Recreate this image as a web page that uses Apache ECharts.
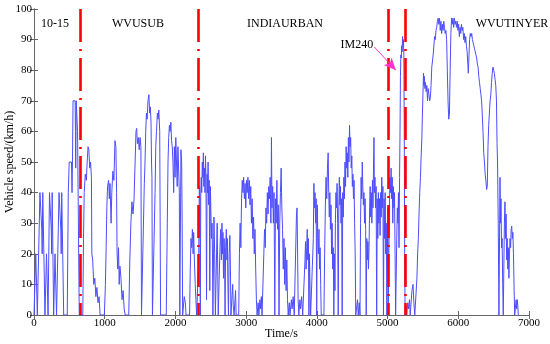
<!DOCTYPE html>
<html>
<head>
<meta charset="utf-8">
<script src="https://cdn.jsdelivr.net/npm/echarts/dist/echarts.min.js"></script>
<style>html,body{margin:0;padding:0;background:#fff}#c{width:550px;height:344px}</style>
</head>
<body>
<div id="c"></div>
<script>
// Speed trace [time s, speed km/h], per driving cycle
const cycle1015 = [[0,0],[18,0],[25,20],[40,20],[47,0],[70,0],[84,40],[100,40],[110,28],[116,20],[124,40],[140,40],[155,0],
[170,0],[177,20],[192,20],[199,0],[205,0],[219,40],[234,40],[244,28],[250,20],[257,40],[268,40],[278,0],
[290,0],[297,20],[312,20],[319,0],[340,0],[354,40],[369,40],[379,28],[385,20],[392,40],[410,40],[420,0],
[470,0],[485,40],[498,50],[530,50],[538,40],[544,50],[552,70],[582,70],[586,60],[590,48],[597,70],[612,70],[616,60],[630,60],[640,0],[660,0]];

const wvusub = [[660,0],[690,0],[700,25],[710,40],[725,46],[740,44],[752,50],[764,55],[776,54],[788,48],[800,50],[812,45],[818,20],[830,18],[845,10],[860,12],[875,6],[890,9],[905,4],[920,6],[935,0],
[995,0],[1010,10],[1020,22],[1030,35],[1040,42],[1055,44],[1065,38],[1075,43],[1090,30],[1100,40],[1115,47],[1130,44],[1145,57],[1158,55],[1168,40],[1175,20],[1185,15],[1195,22],[1205,10],[1215,16],[1230,12],[1245,5],[1260,8],[1275,2],[1290,0],
[1340,0],[1355,18],[1370,30],[1385,37],[1400,33],[1415,38],[1430,50],[1442,60],[1452,61],[1462,56],[1475,58],[1488,54],[1500,58],[1512,55],[1520,0],
[1545,0],[1560,43],[1570,50],[1580,60],[1590,66],[1600,64],[1612,70],[1625,72],[1635,66],[1645,68],[1655,63],[1662,50],[1668,45],[1675,0],
[1700,0],[1712,40],[1722,55],[1732,60],[1745,66],[1755,64],[1765,67],[1778,60],[1790,0],
[1870,0],[1885,30],[1895,50],[1905,58],[1915,62],[1925,60],[1935,63],[1945,57],[1955,55],[1965,50],[1975,40],[1985,55],[1995,45],[2005,58],[2015,50],[2025,42],[2035,55],[2045,48],[2055,40],[2062,0],[2070,0],[2078,54],[2088,50],[2095,30],[2102,0],
[2115,0],[2125,6],[2140,4],[2150,0],[2200,0],[2210,15],[2220,25],[2230,22],[2240,28],[2250,20],[2258,27],[2268,18],[2280,10],[2290,5],[2300,0],[2320,0]];

const indiaUrban = [[2320,0],[2330,20],[2338,42],[2345,38],[2352,0],[2358,40],[2365,45],[2372,40],[2380,50],[2388,45],[2395,53],[2402,42],[2410,48],[2418,40],[2425,52],[2432,45],[2440,5],[2448,46],[2455,40],[2462,50],[2470,36],[2478,44],[2486,8],[2494,42],[2502,33],[2510,25],[2518,30],[2525,18],[2530,0],
[2545,32],[2555,20],[2565,0],[2580,0],[2590,30],[2598,15],[2605,0],[2620,0],[2630,22],[2640,28],[2650,18],[2658,30],[2665,20],[2672,27],[2680,12],[2688,25],[2695,20],[2702,0],[2710,22],[2720,28],[2728,18],[2735,25],[2742,10],[2750,0],[2760,20],[2770,26],[2778,15],[2785,0],[2800,0],[2810,10],[2818,3],[2830,0],[2850,8],[2858,0],[2880,0],
[2895,0],[2905,20],[2915,30],[2925,22],[2935,38],[2945,44],[2955,40],[2965,45],[2975,38],[2985,43],[2995,35],[3005,44],[3015,40],[3025,45],[3035,38],[3045,44],[3055,36],[3065,42],[3075,30],[3085,38],[3095,25],[3105,32],[3115,20],[3125,28],[3135,15],[3145,5],[3155,0],[3170,4],[3180,0],[3195,5],[3205,2],[3215,6],[3225,0],
[3240,0],[3250,20],[3260,28],[3270,22],[3280,35],[3290,30],[3300,40],[3310,33],[3320,42],[3330,38],[3340,45],[3350,30],[3358,58],[3365,35],[3375,42],[3385,30],[3395,40],[3405,0],[3415,38],[3425,30],[3435,44],[3445,28],[3455,36],[3465,0],[3475,30],[3485,40],[3495,48],[3505,35],[3515,28],
[3525,15],[3535,25],[3545,10],[3555,22],[3565,8],[3575,18],[3585,5],[3595,0],[3610,4],[3620,0],[3640,5],[3650,2],[3665,6],[3680,0],[3705,0],[3712,33],[3720,35],[3728,20],[3735,5],[3745,0],[3760,5],[3770,2],[3785,6],[3800,0],
[3825,0],[3832,18],[3840,24],[3848,15],[3856,22],[3864,28],[3872,18],[3880,25],[3888,0],[3896,20],[3904,8],[3912,0],[3940,0],[3950,25],[3958,43],[3966,35],[3974,40],[3982,30],[3990,38],[3998,0],[4006,36],[4014,25],[4022,20],[4030,28],[4038,15],[4046,22],[4054,10],[4062,0],
[4090,0],[4100,0],[4110,20],[4120,35],[4130,45],[4140,38],[4150,48],[4160,53],[4168,40],[4176,32],[4184,40],[4192,28],[4200,36],[4208,20],[4216,30],[4224,15],[4232,22],[4240,0],[4248,20],[4256,8],[4262,30],[4270,40],[4278,35],[4286,43],[4294,30],[4302,0],[4310,34],[4318,45],[4326,36],[4334,42],[4342,30],[4350,38],[4358,0],[4366,40],[4374,32],[4382,45],[4390,38],[4398,50],[4406,42],[4414,55],[4422,48],[4430,53],[4438,45],[4446,58],[4454,50],[4462,62],[4470,55],[4478,58],[4486,48],[4494,52],[4502,42],[4510,46],[4518,38],[4526,44],[4534,30],[4542,20],[4550,0],
[4565,0],[4575,5],[4585,0],[4600,4],[4610,0],[4618,30],[4626,45],[4634,38],[4642,50],[4650,42],[4658,36],[4666,40],[4674,30],[4682,38],[4690,28],[4698,0],[4706,25],[4714,18],[4722,24],[4730,15],[4738,22],[4746,35],[4754,42],[4762,32],[4770,40],[4778,30],[4786,44],[4794,35],[4802,50],[4808,58],[4814,40],[4822,45],[4830,35],[4838,42],[4846,0],[4854,38],[4862,25],[4870,40],[4878,30],[4886,38],[4894,26],[4902,40],[4910,32],[4918,45],[4926,35],[4934,42],[4942,0],[4950,38],[4958,25],[4966,40],[4974,20],[4982,30],[4990,0],[4998,22],[5006,35]];

const im240 = [[5010,0],[5018,20],[5026,35],[5034,45],[5042,40],[5050,48],[5058,38],[5066,45],[5074,30],[5082,42],[5090,35],[5098,40],[5106,20],[5114,0],[5124,0],[5130,25],[5138,35],[5146,30],[5154,40],[5162,22],[5170,45],[5176,60],[5182,78],[5188,85],[5194,84],[5200,88],[5206,86],[5212,91],[5218,88],[5224,90],[5230,85],[5236,60],[5242,20],[5248,0]];

const wvuTinyer = [[5250,0],[5262,3],[5272,0],[5285,4],[5295,2],[5310,5],[5320,0],[5335,0],[5345,8],[5360,10],[5372,4],[5385,0],[5405,0],[5415,12],[5425,20],[5435,25],[5445,33],[5455,40],[5465,45],[5475,52],[5485,58],[5492,65],[5500,72],[5508,79],[5514,75],[5520,78],[5528,74],[5536,76],[5545,73],[5555,75],[5565,70],[5575,74],[5585,72],[5595,70],[5605,71],[5615,75],[5625,81],[5635,83],[5645,85],[5655,88],[5665,91],[5675,90],[5685,93],[5695,94],[5705,96],[5715,97],[5725,95],[5735,97],[5745,93],[5755,96],[5765,92],[5775,95],[5785,93],[5795,96],[5805,94],[5815,92],[5825,93],[5835,90],[5845,80],[5855,70],[5865,64],[5875,66],[5885,80],[5895,92],[5905,97],[5915,95],[5925,97],[5935,94],[5945,97],[5955,95],[5965,96],[5975,94],[5985,96],[5995,93],[6005,95],[6015,91],[6025,94],[6035,92],[6045,95],[6055,93],[6065,94],[6075,90],[6085,92],[6095,89],[6105,91],[6115,88],[6125,86],[6135,82],[6142,79],[6150,84],[6160,90],[6170,92],[6180,91],[6190,92],[6200,90],[6210,89],[6220,88],[6230,87],[6240,86],[6250,85],[6260,84],[6270,82],[6280,81],[6290,78],[6300,76],[6310,74],[6320,72],[6330,70],[6340,70],[6350,60],[6360,53],[6370,50],[6380,46],[6390,44],[6400,41],[6410,42],[6420,55],[6430,62],[6440,66],[6450,70],[6460,72],[6470,76],[6480,79],[6490,81],[6500,80],[6510,79],[6520,77],[6530,75],[6540,70],[6548,56],[6555,50],[6565,30],[6575,0],[6585,0],[6590,45],[6596,30],[6604,38],[6612,22],[6620,25],[6628,10],[6636,0],[6645,0],[6652,30],[6660,37],[6668,25],[6676,33],[6684,18],[6692,25],[6700,15],[6708,22],[6716,12],[6724,20],[6732,25],[6740,22],[6748,28],[6756,29],[6764,25],[6772,27],[6780,20],[6790,8],[6798,0],[6810,0],[6818,5],[6826,2],[6834,5],[6842,3],[6848,0]];

// Cycle boundaries (s)
const boundaries = [660, 2320, 5010, 5250];
// Cycle name labels [name, time, speed]
const cycleLabels = [["10-15", 297, 95], ["WVUSUB", 1470, 95], ["INDIAURBAN", 3549, 95], ["IM240", 4567, 88.2], ["WVUTINYER", 6759, 95]];
// Arrow from IM240 label to the IM240 trace
const arrowFrom = [4812, 87.6];
const arrowTo = [5118, 80];

const xTicks = {min: 0, max: 7000, step: 1000};
const yTicks = {min: 0, max: 100, step: 10};

const FONT = 'Liberation Serif';
const trace = [].concat(cycle1015, wvusub, indiaUrban, im240, wvuTinyer);

const chart = echarts.init(document.getElementById('c'), null, {renderer: 'canvas'});

const axisCommon = {
  axisLine: {show: true, lineStyle: {color: '#666', width: 1}},
  axisTick: {show: true, inside: true, length: 4, lineStyle: {color: '#666'}},
  splitLine: {show: false}
};

const markLineData = boundaries.map(b => [
  {coord: [b, yTicks.max]},
  {coord: [b, yTicks.min]}
]);
markLineData.push([
  {coord: arrowFrom, symbol: 'none', lineStyle: {color: '#ff33cc', type: 'solid', width: 1}},
  {coord: arrowTo, symbol: 'arrow', symbolSize: [8, 12], lineStyle: {color: '#ff33cc', type: 'solid', width: 1}}
]);

const plain = v => String(v);

chart.setOption({
  animation: false,
  backgroundColor: '#fff',
  grid: {left: 34, right: 21, top: 9, bottom: 29, outerBoundsMode: 'none', containLabel: false},
  xAxis: [
    Object.assign({
      type: 'value', min: xTicks.min, max: xTicks.max, interval: xTicks.step, position: 'bottom',
      name: 'Time/s', nameLocation: 'middle', nameGap: 13, nameMoveOverlap: false,
      nameTextStyle: {fontFamily: FONT, fontSize: 12, color: '#000'},
      axisLabel: {fontFamily: FONT, fontSize: 11, color: '#000', margin: 3, formatter: plain}
    }, axisCommon),
    Object.assign({
      type: 'value', min: xTicks.min, max: xTicks.max, interval: xTicks.step, position: 'top',
      axisLabel: {show: false}
    }, axisCommon)
  ],
  yAxis: [
    Object.assign({
      type: 'value', min: yTicks.min, max: yTicks.max, interval: yTicks.step, position: 'left',
      name: 'Vehicle speed/(km/h)', nameLocation: 'middle', nameGap: 18, nameMoveOverlap: false,
      nameTextStyle: {fontFamily: FONT, fontSize: 12, color: '#000'},
      axisLabel: {fontFamily: FONT, fontSize: 11, color: '#000', margin: 2, formatter: plain}
    }, axisCommon),
    Object.assign({
      type: 'value', min: yTicks.min, max: yTicks.max, interval: yTicks.step, position: 'right',
      axisLabel: {show: false}
    }, axisCommon)
  ],
  series: [{
    type: 'line',
    xAxisIndex: 0, yAxisIndex: 0,
    data: trace,
    showSymbol: false,
    symbol: 'none',
    silent: true,
    lineStyle: {color: '#4d4dff', width: 1},
    markLine: {
      silent: true,
      symbol: ['none', 'none'],
      label: {show: false},
      lineStyle: {color: '#ff0000', width: 2.6, type: [33, 7, 2, 7]},
      data: markLineData
    },
    markPoint: {
      silent: true,
      symbol: 'circle',
      symbolSize: 0,
      label: {show: true, position: 'inside', fontFamily: FONT, fontSize: 12, color: '#000'},
      data: cycleLabels.map(l => ({coord: [l[1], l[2]], value: l[0], label: {formatter: l[0]}}))
    }
  }]
});
</script>
</body>
</html>
